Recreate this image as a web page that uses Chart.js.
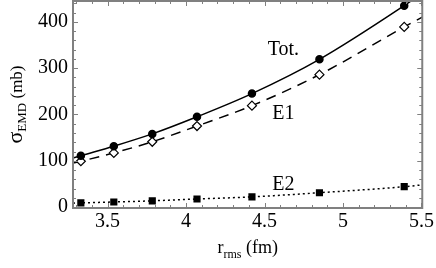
<!DOCTYPE html>
<html>
<head>
<meta charset="utf-8">
<script src="https://cdn.jsdelivr.net/npm/chart.js@4/dist/chart.umd.min.js"></script>
</head>
<body style="margin:0">
<div style="width:436px;height:268px"><canvas id="c"></canvas></div>
<script>
// r_rms (fm) of each computed point
const xs = [3.33, 3.54, 3.785, 4.07, 4.42, 4.85, 5.39];
// cross sections (mb)
const totVals = [111, 131.5, 158, 195, 245, 319, 435];
const e1Vals = [99, 117, 141, 175, 219, 286, 389];
const e2Vals = [9, 11, 13.5, 17.5, 22, 31, 44];

// the fit curves run on past the markers to the frame
const edgeX = [3.28, 5.505];
const totEdge = [106, 462];
const e1Edge = [95, 410];
const e2Edge = [8.5, 48];

const xTicks = [3.5, 4, 4.5, 5, 5.5];
const yTicks = [0, 100, 200, 300, 400];

// curve labels: text, x, y (data units)
const curveLabels = [
    ["Tot.", 4.62, 340],
    ["E1", 4.62, 202],
    ["E2", 4.62, 49]
];

const serifFamily = "'Liberation Serif'";
const frameColor = "#808080";

Chart.defaults.font.family = serifFamily;

function curve(vals, edge) {
    var pts = [{x: edgeX[0], y: edge[0]}];
    xs.forEach(function (x, i) {
        pts.push({x: x, y: vals[i]});
    });
    pts.push({x: edgeX[1], y: edge[1]});
    return pts;
}

function radius(r) {
    return function (ctx) {
        var n = ctx.dataset.data.length;
        return (ctx.dataIndex === 0 || ctx.dataIndex === n - 1) ? 0 : r;
    };
}

// inward ticks on all four sides plus the grey box
const framePlugin = {
    id: 'frame',
    afterDraw: function (chart) {
        const ctx = chart.ctx;
        const a = chart.chartArea;
        const sx = chart.scales.x, sy = chart.scales.y;
        ctx.save();
        ctx.strokeStyle = frameColor;
        ctx.lineWidth = 1;
        for (let i = 33; i <= 55; i++) {
            const v = i / 10;
            const px = Math.round(sx.getPixelForValue(v)) + 0.5;
            if (px < a.left || px > a.right) continue;
            const len = (i % 5 === 0) ? 5 : 3;
            ctx.beginPath();
            ctx.moveTo(px, a.bottom); ctx.lineTo(px, a.bottom - len);
            ctx.moveTo(px, a.top); ctx.lineTo(px, a.top + len);
            ctx.stroke();
        }
        for (let v = 0; v <= 440; v += 20) {
            const py = Math.round(sy.getPixelForValue(v)) + 0.5;
            if (py < a.top || py > a.bottom) continue;
            const len = (v % 100 === 0) ? 5 : 3;
            ctx.beginPath();
            ctx.moveTo(a.left, py); ctx.lineTo(a.left + len, py);
            ctx.moveTo(a.right, py); ctx.lineTo(a.right - len, py);
            ctx.stroke();
        }
        ctx.lineWidth = 2;
        ctx.strokeRect(a.left, a.top, a.right - a.left, a.bottom - a.top);
        ctx.restore();
    }
};

// axis titles with subscripts and the curve names
const textPlugin = {
    id: 'texts',
    afterDraw: function (chart) {
        const ctx = chart.ctx;
        const a = chart.chartArea;
        const sx = chart.scales.x, sy = chart.scales.y;
        ctx.save();
        ctx.fillStyle = "#000";
        ctx.textBaseline = "alphabetic";
        ctx.textAlign = "left";

        // x title: r_rms (fm)
        const cx = (a.left + a.right) / 2;
        const parts = [["r", "18px " + serifFamily, 0], ["rms", "12px " + serifFamily, 5], [" (fm)", "18px " + serifFamily, 0]];
        let w = 0;
        parts.forEach(function (p) { ctx.font = p[1]; w += ctx.measureText(p[0]).width; });
        let x = cx - w / 2;
        parts.forEach(function (p) {
            ctx.font = p[1];
            ctx.fillText(p[0], x, 253 + p[2]);
            x += ctx.measureText(p[0]).width;
        });

        // y title: sigma_EMD (mb), rotated
        const cy = (a.top + a.bottom) / 2;
        const yparts = [["σ", "22px " + serifFamily, 0], ["EMD", "13px " + serifFamily, 4], [" (mb)", "17px " + serifFamily, 0]];
        let h = 0;
        yparts.forEach(function (p) { ctx.font = p[1]; h += ctx.measureText(p[0]).width; });
        ctx.translate(22, cy);
        ctx.rotate(-Math.PI / 2);
        let t = -h / 2;
        yparts.forEach(function (p) {
            ctx.font = p[1];
            ctx.fillText(p[0], t, p[2]);
            t += ctx.measureText(p[0]).width;
        });
        ctx.setTransform(1, 0, 0, 1, 0, 0);

        ctx.font = "20px " + serifFamily;
        ctx.textAlign = "center";
        ctx.textBaseline = "middle";
        curveLabels.forEach(function (l) {
            ctx.fillText(l[0], sx.getPixelForValue(l[1]), sy.getPixelForValue(l[2]));
        });
        ctx.restore();
    }
};

function drawChart() {
    new Chart(document.getElementById("c"), {
        type: 'line',
        data: {
            datasets: [{
                    label: 'Tot.',
                    data: curve(totVals, totEdge),
                    borderColor: "#000",
                    borderWidth: 1.5,
                    pointRadius: radius(3.5),
                    pointStyle: 'circle',
                    pointBackgroundColor: "#000",
                    pointBorderColor: "#000",
                    cubicInterpolationMode: 'monotone',
                    fill: false
                }, {
                    label: 'E1',
                    data: curve(e1Vals, e1Edge),
                    borderColor: "#000",
                    borderWidth: 1.5,
                    borderDash: [10, 7],
                    pointRadius: radius(4.5),
                    pointStyle: 'rectRot',
                    pointBackgroundColor: "#fff",
                    pointBorderColor: "#000",
                    pointBorderWidth: 1.2,
                    cubicInterpolationMode: 'monotone',
                    fill: false
                }, {
                    label: 'E2',
                    data: curve(e2Vals, e2Edge),
                    borderColor: "#000",
                    borderWidth: 1.5,
                    borderDash: [2, 3],
                    pointRadius: radius(4),
                    pointStyle: 'rect',
                    pointBackgroundColor: "#000",
                    pointBorderColor: "#000",
                    cubicInterpolationMode: 'monotone',
                    fill: false
                }]
        },
        options: {
            responsive: true,
            maintainAspectRatio: false,
            animation: false,
            layout: {
                padding: {left: 0, right: 9, top: 1, bottom: 0}
            },
            scales: {
                x: {
                    type: 'linear',
                    min: edgeX[0],
                    max: edgeX[1],
                    grid: {display: false, drawTicks: false},
                    border: {display: false},
                    afterBuildTicks: function (s) {
                        s.ticks = xTicks.map(function (v) { return {value: v}; });
                    },
                    afterFit: function (s) { s.height = 60; },
                    ticks: {
                        color: "#000",
                        padding: 2,
                        maxRotation: 0,
                        font: {family: serifFamily, size: 20},
                        callback: function (v) { return String(v); }
                    }
                },
                y: {
                    min: -2,
                    max: 445,
                    grid: {display: false, drawTicks: false},
                    border: {display: false},
                    afterBuildTicks: function (s) {
                        s.ticks = yTicks.map(function (v) { return {value: v}; });
                    },
                    afterFit: function (s) {
                        s.width = 73;
                        s.paddingTop = 0;
                        s.paddingBottom = 0;
                    },
                    ticks: {
                        color: "#000",
                        padding: 5,
                        font: {family: serifFamily, size: 20},
                        callback: function (v) { return String(v); }
                    }
                }
            },
            plugins: {
                legend: {display: false},
                tooltip: {enabled: false}
            }
        },
        plugins: [framePlugin, textPlugin]
    });
}

// touch the serif face once on a scratch canvas, then build the chart
const warm = document.createElement("canvas").getContext("2d");
[12, 13, 17, 18, 20, 22].forEach(function (sz) {
    warm.font = sz + "px " + serifFamily;
    warm.fillText("Tot. E1 E2 σ 0123456789 (mb) rms", 0, 20);
});
requestAnimationFrame(drawChart);
</script>
</body>
</html>
